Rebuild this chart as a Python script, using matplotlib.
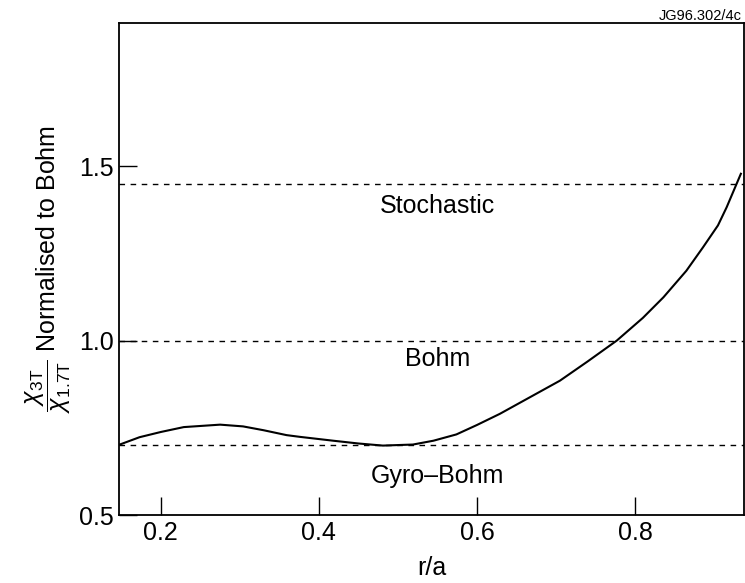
import numpy as np
import matplotlib.pyplot as plt

plt.rcParams['font.family'] = ['Liberation Sans', 'DejaVu Sans']
plt.rcParams['mathtext.fontset'] = 'custom'
plt.rcParams['mathtext.rm'] = 'Liberation Sans'
plt.rcParams['mathtext.it'] = 'Liberation Sans:italic'

# curve
r_a = [0.148, 0.173, 0.200, 0.229, 0.275, 0.304, 0.330, 0.359, 0.376, 0.418,
       0.450, 0.481, 0.519, 0.545, 0.574, 0.600, 0.629, 0.665, 0.705, 0.740,
       0.777, 0.810, 0.836, 0.865, 0.886, 0.905, 0.916, 0.934]
chi_ratio = [0.702, 0.723, 0.738, 0.752, 0.759, 0.754, 0.743, 0.729, 0.724, 0.713,
             0.705, 0.699, 0.702, 0.713, 0.731, 0.758, 0.790, 0.835, 0.885, 0.940,
             1.000, 1.065, 1.124, 1.200, 1.267, 1.330, 1.382, 1.478]

# reference scalings
ref_levels = [1.45, 1.0, 0.7]
ref_names = ['Stochastic', 'Bohm', 'Gyro\u2013Bohm']
ref_label_y = [1.387, 0.948, 0.613]

xticks = [0.2, 0.4, 0.6, 0.8]
yticks = [0.5, 1.0, 1.5]

fig = plt.figure(figsize=(7.45, 5.83), dpi=100)
ax = fig.add_axes([0.1597, 0.1166, 0.8390, 0.8439])

for lev in ref_levels:
    ax.axhline(lev, color='black', lw=1.0, ls=(0, (4, 4)))
for name, y in zip(ref_names, ref_label_y):
    ax.text(0.55, y, name, ha='center', va='center', fontsize=18)

ax.plot(r_a, chi_ratio, color='black', lw=1.5)

ax.set_xlim(0.147, 0.938)
ax.set_ylim(0.5, 1.91)
ax.set_xticks(xticks)
ax.set_xticklabels([f'{v:.1f}' for v in xticks])
ax.set_yticks(yticks)
ax.set_yticklabels([f'{v:.1f}' for v in yticks])
ax.tick_params(direction='in', length=13, width=1.0, labelsize=18, pad=4,
               top=False, right=False)
for s in ax.spines.values():
    s.set_linewidth(1.3)

ax.set_xlabel('r/a', fontsize=18, labelpad=8)
ax.set_ylabel(r'$\dfrac{\chi_{\mathrm{3T}}}{\chi_{\mathrm{1.7T}}}$ Normalised to Bohm',
              fontsize=18, labelpad=4)

fig.text(0.995, 0.972, 'JG96.302/4c', ha='right', va='center', fontsize=10.5)

fig.savefig('out.png', dpi=100)
